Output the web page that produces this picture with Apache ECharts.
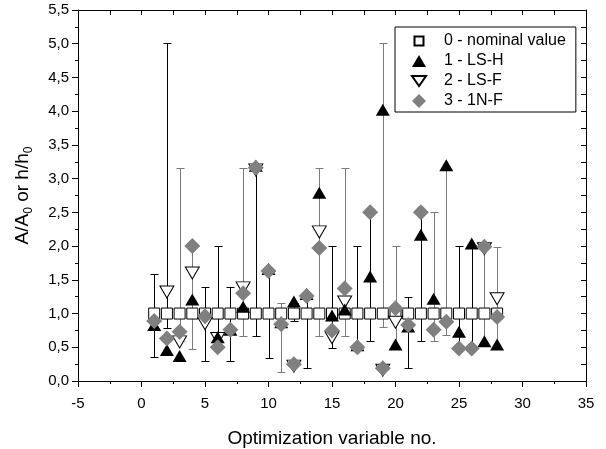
<!DOCTYPE html>
<html>
<head>
<meta charset="utf-8">
<script src="https://cdn.jsdelivr.net/npm/echarts@6/dist/echarts.min.js"></script>
<style>
html,body{margin:0;padding:0;background:#fff;}
#chart{width:606px;height:449px;}
</style>
</head>
<body>
<div id="chart"></div>
<script>
// ---- data ----
const varNo = [1,2,3,4,5,6,7,8,9,10,11,12,13,14,15,16,17,18,19,20,21,22,23,24,25,26,27,28];
const nominal = [1,1,1,1,1,1,1,1,1,1,1,1,1,1,1,1,1,1,1,1,1,1,1,1,1,1,1,1];
const lsH = [0.80,0.43,0.34,1.18,null,0.62,0.73,1.07,3.16,1.63,0.84,1.15,1.26,2.76,0.94,1.03,0.50,1.52,3.99,0.51,0.78,2.14,1.19,3.17,0.70,2.01,0.56,0.51];
const lsF = [null,1.35,0.61,1.63,0.88,0.66,null,1.41,3.16,null,null,0.25,null,2.24,0.67,1.20,null,null,0.19,0.90,null,null,null,null,null,null,1.99,1.25];
const n1F = [0.89,0.63,0.73,2.00,0.96,0.50,0.76,1.30,3.16,1.63,0.84,0.25,1.26,1.97,0.75,1.37,0.50,2.50,0.19,1.08,0.83,2.50,0.76,0.88,0.48,0.48,1.99,0.95];
const barLow  = [0.36,0.78,0.60,0.48,0.29,0.67,0.29,0.67,0.67,0.34,0.14,0.89,0.19,0.67,0.49,0.67,0.50,0.60,0.80,0.51,0.19,0.59,0.59,0.68,0.48,0.48,0.56,0.51];
const barHigh = [1.58,5.01,3.16,2.00,1.39,2.00,1.39,3.16,3.16,1.63,1.15,1.15,1.26,3.16,2.00,3.16,2.00,2.50,5.01,2.00,1.25,2.50,2.50,3.16,2.00,2.01,1.99,1.99];
// which series group each error bar belongs to (1 = LS-H, 3 = 1N-F)
const barGroup = [1,1,3,3,1,1,1,3,1,1,3,1,1,3,1,3,1,1,3,3,1,1,3,3,1,1,3,3];
const seriesNames = ['0 - nominal value','1 - LS-H','2 - LS-F','3 - 1N-F'];
const xTicks = {min:-5, max:35, step:5, minorStep:2.5};
const yTicks = {min:0, max:5.5, step:0.5, minorStep:0.25};

function pts(arr){ return varNo.map((x,i)=>[x,arr[i]]).filter(p=>p[1]!==null); }
const barData = varNo.map((x,i)=>[x,barLow[i],barHigh[i],barGroup[i]]);

const FONT = 'Liberation Sans, Arial, sans-serif';
const GRAY = '#7a7a7a';
const DIAMOND = '#808080';
const downTri = 'path://M0,0L14,0L7,12Z';

const chart = echarts.init(document.getElementById('chart'));
const yFmt = v => v.toFixed(1).replace('.', ',');

const option = {
  animation:false,
  grid:{left:78,right:20,top:10,bottom:68,outerBoundsMode:'none'},
  xAxis:[{
    type:'value', min:xTicks.min, max:xTicks.max, interval:xTicks.step,
    position:'bottom', show:true,
    axisLine:{show:true,onZero:false,lineStyle:{color:'#000',width:1}},
    axisTick:{show:true,inside:false,length:6,lineStyle:{color:'#000',width:1}},
    minorTick:{show:true,splitNumber:2,length:3,lineStyle:{color:'#000',width:1}},
    splitLine:{show:false},
    axisLabel:{show:true,color:'#000',fontSize:15,fontFamily:FONT,margin:15},
    name:'Optimization variable no.', nameLocation:'middle', nameGap:48,
    nameTextStyle:{color:'#000',fontSize:19,fontFamily:FONT}
  },{
    type:'value', min:xTicks.min, max:xTicks.max, interval:xTicks.minorStep,
    position:'top', show:true,
    axisLine:{show:true,onZero:false,lineStyle:{color:'#000',width:1}},
    axisTick:{show:true,inside:true,length:5,lineStyle:{color:'#000',width:1}},
    splitLine:{show:false},
    axisLabel:{show:true,color:'rgba(0,0,0,0)'}
  }],
  yAxis:[{
    type:'value', min:yTicks.min, max:yTicks.max, interval:yTicks.step,
    position:'left', show:true,
    axisLine:{show:true,onZero:false,lineStyle:{color:'#000',width:1}},
    axisTick:{show:true,inside:false,length:6,lineStyle:{color:'#000',width:1}},
    minorTick:{show:true,splitNumber:2,length:3,lineStyle:{color:'#000',width:1}},
    splitLine:{show:false},
    axisLabel:{show:true,color:'#000',fontSize:15,fontFamily:FONT,margin:9,formatter:yFmt},
    name:'{a|A/A}{s|0}{a| or h/h}{s|0}', nameLocation:'middle', nameGap:43, nameRotate:90,
    nameTextStyle:{color:'#000',fontFamily:FONT,
      rich:{a:{fontSize:19,fontFamily:FONT,color:'#000',lineHeight:24,verticalAlign:'middle'},
            s:{fontSize:12,fontFamily:FONT,color:'#000',lineHeight:24,verticalAlign:'bottom'}}}
  },{
    type:'value', min:yTicks.min, max:yTicks.max, interval:yTicks.minorStep,
    position:'right', show:true,
    axisLine:{show:true,onZero:false,lineStyle:{color:'#000',width:1}},
    axisTick:{show:true,inside:true,length:5,lineStyle:{color:'#000',width:1}},
    splitLine:{show:false},
    axisLabel:{show:true,color:'rgba(0,0,0,0)'}
  }],
  legend:{
    orient:'vertical', left:395, top:27,
    padding:[6,10,3,16],
    itemWidth:14, itemHeight:14, itemGap:4,
    borderColor:'#000', borderWidth:1, borderRadius:0,
    backgroundColor:'#fff',
    textStyle:{color:'#000',fontSize:16,fontFamily:FONT,lineHeight:16, rich:{g:{width:13}}},
    formatter: n => '{g|}' + n,
    data:[
      {name:seriesNames[0], icon:'path://M0,0M14,14M2.5,2.5L11.5,2.5L11.5,11.5L2.5,11.5Z'},
      {name:seriesNames[1], icon:'path://M0,0M14,14M7,1L14,13L0,13Z'},
      {name:seriesNames[2], icon:'path://M0,0M14,14M0,2L14,2L7,12Z'},
      {name:seriesNames[3], icon:'path://M0,0M14,14M7,0L14,7L7,14L0,7Z'}
    ]
  },
  series:[
    {
      type:'custom', name:'err', xAxisIndex:0, yAxisIndex:0, z:2,
      data:barData,
      encode:{x:0,y:[1,2]},
      renderItem:function(params, api){
        const x = api.value(0), lo = api.value(1), hi = api.value(2), g = api.value(3);
        const pLo = api.coord([x,lo]), pHi = api.coord([x,hi]);
        const px = Math.round(pLo[0]) + 0.5;
        const yl = Math.round(pLo[1]) + 0.5, yh = Math.round(pHi[1]) + 0.5;
        const c = g === 1 ? '#000' : GRAY;
        const w = 4;
        const st = {stroke:c, lineWidth:1};
        return {type:'group', children:[
          {type:'line', shape:{x1:px,y1:yl,x2:px,y2:yh}, style:st},
          {type:'line', shape:{x1:px-w,y1:yl,x2:px+w,y2:yl}, style:st},
          {type:'line', shape:{x1:px-w,y1:yh,x2:px+w,y2:yh}, style:st}
        ]};
      }
    },
    {
      type:'scatter', name:seriesNames[0], z:3, xAxisIndex:1, yAxisIndex:1,
      data:pts(nominal), symbol:'rect', symbolSize:11,
      itemStyle:{color:'#fff',borderColor:'#000',borderWidth:1,opacity:1}
    },
    {
      type:'scatter', name:seriesNames[2], z:4,
      data:pts(lsF), symbol:downTri, symbolSize:[14,12], symbolOffset:[0,2],
      itemStyle:{color:'#fff',borderColor:'#000',borderWidth:1,opacity:1}
    },
    {
      type:'scatter', name:seriesNames[1], z:5,
      data:pts(lsH), symbol:'triangle', symbolSize:[14,12], symbolOffset:[0,-2],
      itemStyle:{color:'#000',borderColor:'#000',borderWidth:0,opacity:1}
    },
    {
      type:'scatter', name:seriesNames[3], z:6,
      data:pts(n1F), symbol:'diamond', symbolSize:16,
      itemStyle:{color:DIAMOND,borderWidth:0,opacity:1}
    }
  ]
};
chart.setOption(option);
</script>
</body>
</html>
